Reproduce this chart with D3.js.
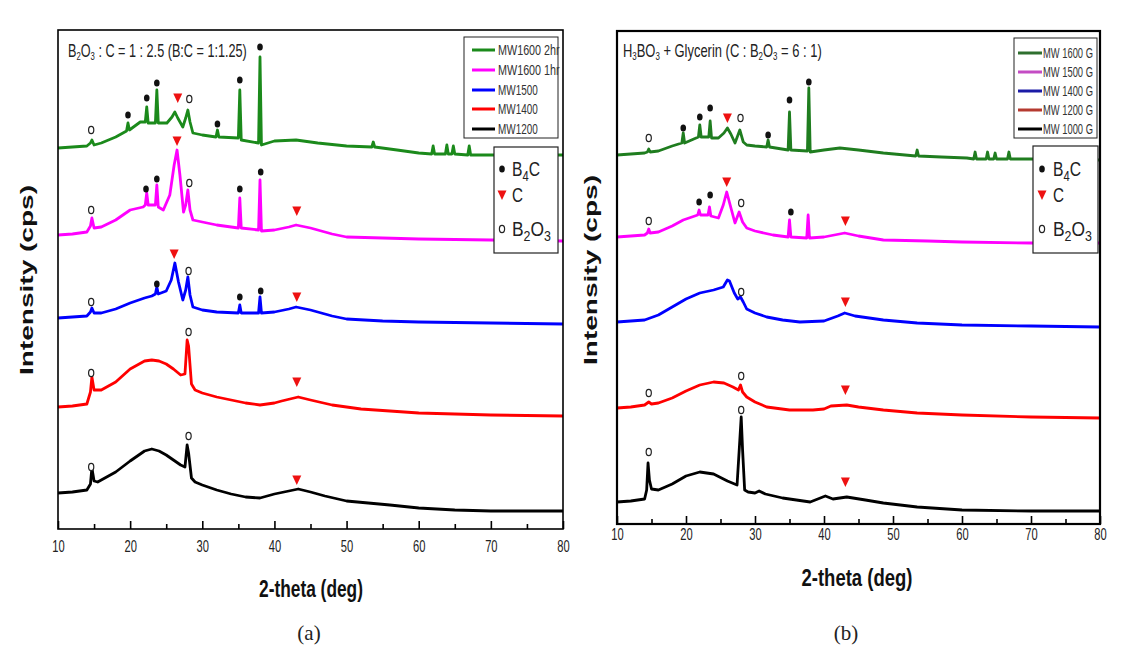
<!DOCTYPE html>
<html>
<head>
<meta charset="utf-8">
<script src="https://cdn.jsdelivr.net/npm/d3@7"></script>
<style>
  html, body { margin: 0; padding: 0; background: #fff; }
  svg { display: block; }
</style>
</head>
<body>
<svg id="chart" width="1127" height="650"></svg>
<script>
// ---------------- DATA ----------------
const xTicks = [10, 20, 30, 40, 50, 60, 70, 80];
const xMinorTicks = [15, 25, 35, 45, 55, 65, 75];

const aSeriesNames = ["MW1600 2hr", "MW1600 1hr", "MW1500", "MW1400", "MW1200"];
const bSeriesNames = ["MW 1600 G", "MW 1500 G", "MW 1400 G", "MW 1200 G", "MW 1000 G"];
const aColors = ["#1b8a1b", "#ff00ff", "#0000ff", "#ff0000", "#000000"];
const bColors = ["#1f7d1f", "#ff00ff", "#0000ff", "#ff0000", "#000000"];
const bLegendColors = ["#2f6f2f", "#c44cc4", "#1b1ba6", "#b53a30", "#000000"];
const phaseLabels = ["B4C", "C", "B2O3"];

// Panel (a) — stacked intensity (offset included), [2theta, intensity]
const aMW1600_2hr = [[10,762],[12,764],[14,766],[14.5,772],[14.7,778],[15,768],[16,772],[18,784],[19.5,796],[19.7,812],[19.9,798],[21.4,814],[22.1,814],[22.3,844],[22.5,812],[23.5,812],[23.7,878],[23.9,812],[25.1,812],[25.8,824],[26.2,834],[26.6,822],[27.3,804],[27.7,822],[28,838],[28.3,814],[28.7,792],[30,788],[31.9,784],[32.1,798],[32.3,784],[35,782],[35.2,878],[35.4,778],[37.8,772],[38,944],[38.2,768],[40,776],[43,778],[46,772],[50,766],[53.5,764],[53.7,774],[53.9,764],[57,758],[60,752],[61.8,750],[62,766],[62.2,750],[63.7,750],[63.9,768],[64.1,750],[64.6,750],[64.8,766],[65,750],[66.8,748],[67,766],[67.2,748],[70,748],[80,748]];
const aMW1600_1hr = [[10,588],[12,590],[14,594],[14.5,606],[14.7,622],[15,602],[16,604],[18,618],[20,638],[21.8,644],[22.1,648],[22.3,672],[22.5,648],[23.5,648],[23.7,688],[23.9,644],[24.6,638],[25.5,668],[26.1,728],[26.5,758],[26.9,708],[27.4,634],[27.7,648],[28,678],[28.3,638],[28.7,618],[30,614],[32,608],[34,604],[35,602],[35.2,662],[35.4,602],[37.8,598],[38,698],[38.2,596],[40,598],[42,604],[43,608],[45,602],[48,590],[50,584],[55,582],[60,580],[70,578],[80,576]];
const aMW1500 = [[10,422],[12,424],[14,426],[14.5,434],[14.7,442],[15,432],[16,432],[18,440],[20,452],[22,462],[23,466],[23.5,470],[23.7,484],[23.9,470],[25,476],[25.7,498],[26.2,532],[26.7,494],[27.3,458],[27.7,478],[28,504],[28.3,468],[28.7,444],[30,438],[32,434],[35,432],[35.2,448],[35.4,432],[37.8,432],[38,464],[38.2,432],[40,434],[42,440],[43,444],[45,438],[48,426],[50,420],[55,416],[60,414],[70,412],[80,410]];
const aMW1400 = [[10,244],[12,246],[14,250],[14.5,274],[14.7,304],[15,278],[16,278],[18,294],[20,320],[22,336],[23,338],[24,336],[25,330],[26,320],[27,308],[27.6,310],[27.9,378],[28.1,366],[28.5,290],[29,278],[30,272],[32,264],[34,258],[36,252],[38,248],[40,252],[41,256],[43.3,264],[45,258],[48,248],[52,240],[56,236],[60,232],[65,230],[70,228],[80,226]];
const aMW1200 = [[10,72],[12,74],[14,78],[14.5,90],[14.7,122],[15,96],[15.5,94],[16,98],[18,114],[20,136],[22,156],[23,160],[24,156],[25,148],[26,138],[27,128],[27.6,124],[27.9,168],[28.1,152],[28.5,102],[29,94],[30,88],[32,78],[34,70],[36,64],[38,62],[40,70],[42,76],[43.3,80],[45,74],[47,66],[50,56],[53,52],[56,48],[60,42],[65,38],[70,36],[80,36]];

// Panel (a) peak markers [type, 2theta, intensity]
const aMarkers = [
  ["o",14.6,798],["b",19.7,828],["b",22.3,862],["b",23.7,892],["c",26.6,862],["o",28.2,860],["b",32.1,810],["b",35.2,898],["b",38.0,964],
  ["o",14.6,638],["b",22.2,680],["b",23.7,700],["c",26.5,776],["o",28.2,692],["b",35.2,680],["b",38.1,714],["c",43.1,636],
  ["o",14.6,454],["b",23.7,490],["c",26.1,550],["o",28.1,516],["b",35.2,464],["b",38.1,476],["c",43.1,464],
  ["o",14.6,312],["o",28.1,394],["c",43.1,294],
  ["o",14.6,124],["o",28.1,186],["c",43.1,98]
];

// Panel (b)
const bMW1600G = [[10,738],[12,740],[14,742],[14.4,744],[14.6,750],[14.8,744],[16,746],[18,756],[19.4,762],[19.6,782],[19.8,762],[21.8,774],[22,798],[22.2,774],[23.3,774],[23.5,806],[23.7,772],[24.7,772],[25.5,782],[26,792],[26.5,780],[27.1,762],[27.8,788],[28.3,764],[28.8,758],[30,756],[31.7,754],[31.9,768],[32.1,754],[34.8,748],[35,824],[35.2,748],[37.6,746],[37.8,872],[38,744],[40,748],[42.3,752],[45,748],[48.6,742],[53.3,736],[53.5,748],[53.7,736],[57,734],[60.7,732],[61.7,730],[61.9,744],[62.1,730],[63.5,730],[63.7,744],[63.9,730],[64.6,730],[64.8,742],[65,730],[66.6,730],[66.8,744],[67,730],[70,730],[80,728]];
const bMW1500G = [[10,574],[12,576],[14,578],[14.4,582],[14.6,590],[14.8,582],[16,584],[18,596],[19.6,608],[21.7,618],[21.9,628],[22.1,618],[23.2,618],[23.4,634],[23.6,616],[24.7,612],[25.4,638],[25.9,664],[26.4,638],[27.1,602],[27.7,624],[28.2,604],[28.8,592],[30,586],[32.6,578],[34.8,574],[35,608],[35.2,574],[37.5,572],[37.7,618],[37.9,572],[40,574],[43,582],[45,576],[48.6,568],[55,566],[60,564],[70,562],[80,562]];
const bMW1400G = [[10,404],[12,406],[14,408],[16,418],[18,434],[20,450],[22,462],[24,468],[25.4,474],[26,488],[26.3,486],[27,462],[27.5,450],[27.9,454],[28.3,444],[28.8,430],[30,422],[31.7,414],[34,408],[36.5,404],[40,406],[42,416],[43,422],[44.5,416],[48.6,408],[53.5,402],[60,398],[70,396],[80,394]];
const bMW1200G = [[10,232],[12,234],[14,238],[14.6,244],[15,240],[16,242],[18,252],[20,266],[22,278],[24,284],[25.5,282],[26.8,274],[27.6,268],[27.9,278],[28.2,264],[28.8,254],[30,244],[31.7,234],[35,228],[38.4,228],[40,230],[41,236],[43.3,238],[45,234],[48.6,228],[53.5,222],[60,218],[70,214],[80,212]];
const bMW1000G = [[10,44],[12,46],[14,50],[14.3,68],[14.5,122],[14.7,88],[15,70],[16,68],[18,80],[20,96],[22,104],[24,100],[26,86],[27.4,78],[27.8,168],[28,214],[28.2,148],[28.5,68],[29,64],[30,62],[30.6,66],[31.5,60],[34,52],[38,44],[40.2,56],[41.3,50],[43.3,54],[46,48],[48.6,42],[53.5,34],[60,28],[70,26],[80,26]];

const bMarkers = [
  ["o",14.6,772],["b",19.6,792],["b",22.0,814],["b",23.5,832],["c",26.0,812],["o",27.9,812],["b",31.9,778],["b",35.0,848],["b",37.8,884],
  ["o",14.6,606],["b",21.9,644],["b",23.5,658],["c",25.9,684],["o",28.0,642],["b",35.2,624],["c",43.1,606],
  ["o",28.0,464],["c",43.1,444],
  ["o",14.6,262],["o",28.0,296],["c",43.1,268],
  ["o",14.6,144],["o",28.0,228],["c",43.1,84]
];

// ---------------- DRAWING ----------------
const svg = d3.select("#chart");
const SANS = "'Liberation Sans',Arial,sans-serif";

// horizontally squeeze a text element to a target width (narrow-font look)
function fitWidth(sel, w, anchor) {
  const node = sel.node();
  const bb = node.getBBox();
  const s = w / bb.width;
  let ax = bb.x;
  if (anchor === "middle") ax = bb.x + bb.width / 2;
  const prev = sel.attr("transform") || "";
  sel.attr("transform", `translate(${ax},0) scale(${s},1) translate(${-ax},0) ${prev}`);
}

const panels = [
  {
    series: [aMW1600_2hr, aMW1600_1hr, aMW1500, aMW1400, aMW1200],
    names: aSeriesNames, colors: aColors, legendColors: aColors, markers: aMarkers,
    x: d3.scaleLinear([10, 80], [58, 563]),
    y: d3.scaleLinear([0, 1000], [529, 29]),
    top: 30, bottom: 529, frameW: 1.6,
    title: [["B", 0], ["2", 1], ["O", 0], ["3", 1], [" : C = 1 : 2.5 (B:C = 1:1.25)", 0]],
    titleX: 68, titleW: 179,
    leg1: {x: 464, y: 37, w: 94, h: 101, rows: [50, 70, 90, 109, 129], lx0: 472, lx1: 495, tx: 498, widths: [62, 62, 40, 40, 40]},
    leg2: {x: 494, y: 147, w: 64, h: 106, sx: 502, tx: 512},
    ylabX: 33, ylabY: 280, xlabX: 311, xlabY: 597, xlabW: 104, capX: 309, capY: 640, tickPad: 12
  },
  {
    series: [bMW1600G, bMW1500G, bMW1400G, bMW1200G, bMW1000G],
    names: bSeriesNames, colors: bColors, legendColors: bLegendColors, markers: bMarkers,
    x: d3.scaleLinear([10, 80], [617, 1100]),
    y: d3.scaleLinear([0, 984], [524, 32]),
    top: 31, bottom: 524, frameW: 2.2,
    title: [["H", 0], ["3", 1], ["BO", 0], ["3", 1], [" + Glycerin (C : B", 0], ["2", 1], ["O", 0], ["3", 1], [" = 6 : 1)", 0]],
    titleX: 623, titleW: 199,
    leg1: {x: 1014, y: 38, w: 83, h: 100, rows: [53, 72, 91, 110, 129], lx0: 1018, lx1: 1042, tx: 1043, widths: [50, 50, 50, 50, 50]},
    leg2: {x: 1033, y: 146, w: 65, h: 107, sx: 1042, tx: 1053},
    ylabX: 597, ylabY: 270, xlabX: 857, xlabY: 586, xlabW: 111, capX: 846, capY: 640, tickPad: 5
  }
];

function drawMarker(g, type, cx, cy) {
  if (type === "b") {
    g.append("ellipse").attr("cx", cx).attr("cy", cy).attr("rx", 2.8).attr("ry", 3.6).attr("fill", "#111");
  } else if (type === "o") {
    g.append("ellipse").attr("cx", cx).attr("cy", cy).attr("rx", 2.6).attr("ry", 3.6)
      .attr("fill", "#fff").attr("stroke", "#222").attr("stroke-width", 1.2);
  } else {
    g.append("path").attr("transform", `translate(${cx},${cy})`)
      .attr("d", "M-4.5,-4.5L4.5,-4.5L0,5Z").attr("fill", "#ee1111");
  }
}

panels.forEach((p, pi) => {
  const g = svg.append("g");
  const [x0, x1] = p.x.range();

  // data lines (draw bottom first)
  const line = d3.line().x(d => p.x(d[0])).y(d => p.y(d[1]));
  p.series.slice().reverse().forEach((s, i) => {
    const idx = p.series.length - 1 - i;
    g.append("path").datum(s).attr("d", line)
      .attr("fill", "none").attr("stroke", p.colors[idx])
      .attr("stroke-width", 2.8).attr("stroke-linejoin", "round");
  });

  // markers
  p.markers.forEach(m => drawMarker(g, m[0], p.x(m[1]), p.y(m[2])));

  // frame
  g.append("rect").attr("x", x0).attr("y", p.top).attr("width", x1 - x0).attr("height", p.bottom - p.top)
    .attr("fill", "none").attr("stroke", "#000").attr("stroke-width", p.frameW);

  // x axis major/minor ticks (inward)
  const axMaj = d3.axisBottom(p.x).tickValues(xTicks).tickSize(-8).tickPadding(p.tickPad).tickFormat(d3.format("d"));
  const axG = g.append("g").attr("transform", `translate(0,${p.bottom})`).call(axMaj);
  axG.select(".domain").remove();
  axG.selectAll(".tick line").attr("stroke", "#000").attr("stroke-width", 1.6);
  axG.selectAll(".tick text").attr("font-family", SANS).attr("font-size", 16).attr("fill", "#222")
    .each(function () { fitWidth(d3.select(this), 12.5, "middle"); });
  const axMin = d3.axisBottom(p.x).tickValues(xMinorTicks).tickSize(-5).tickFormat("");
  const axG2 = g.append("g").attr("transform", `translate(0,${p.bottom})`).call(axMin);
  axG2.select(".domain").remove();
  axG2.selectAll(".tick line").attr("stroke", "#000").attr("stroke-width", 1.6);

  // title with subscripts
  const t = g.append("text").attr("x", p.titleX).attr("y", 57)
    .attr("font-family", SANS).attr("font-size", 18).attr("fill", "#222");
  let sub = false;
  p.title.forEach(([txt, s]) => {
    const ts = t.append("tspan").text(txt);
    if (s && !sub) { ts.attr("dy", 3).attr("font-size", 11); sub = true; }
    else if (s && sub) { ts.attr("font-size", 11); }
    else if (!s && sub) { ts.attr("dy", -3); sub = false; }
  });
  fitWidth(t, p.titleW, "start");

  // legend 1 (series)
  const L = p.leg1;
  g.append("rect").attr("x", L.x).attr("y", L.y).attr("width", L.w).attr("height", L.h)
    .attr("fill", "#fff").attr("stroke", "#222").attr("stroke-width", 1);
  p.names.forEach((n, i) => {
    g.append("line").attr("x1", L.lx0).attr("x2", L.lx1).attr("y1", L.rows[i]).attr("y2", L.rows[i])
      .attr("stroke", p.legendColors[i]).attr("stroke-width", 3);
    const lt = g.append("text").attr("x", L.tx).attr("y", L.rows[i] + 5).text(n)
      .attr("font-family", SANS).attr("font-size", 14).attr("fill", "#333");
    fitWidth(lt, L.widths[i], "start");
  });

  // legend 2 (phases)
  const M = p.leg2;
  g.append("rect").attr("x", M.x).attr("y", M.y).attr("width", M.w).attr("height", M.h)
    .attr("fill", "#fff").attr("stroke", "#222").attr("stroke-width", 1.2);
  const symRows = [169, 195, 229];
  const types = ["b", "c", "o"];
  const phaseW = [28, 11, 39];
  types.forEach((tp, i) => drawMarker(g, tp, M.sx, symRows[i]));
  const phaseParts = [[["B", 0], ["4", 1], ["C", 0]], [["C", 0]], [["B", 0], ["2", 1], ["O", 0], ["3", 1]]];
  phaseParts.forEach((parts, i) => {
    const tt = g.append("text").attr("x", M.tx).attr("y", symRows[i] + 7)
      .attr("font-family", SANS).attr("font-size", 21).attr("fill", "#222");
    let sb = false;
    parts.forEach(([txt, s]) => {
      const ts = tt.append("tspan").text(txt);
      if (s && !sb) { ts.attr("dy", 5).attr("font-size", 15); sb = true; }
      else if (s && sb) { ts.attr("font-size", 15); }
      else if (!s && sb) { ts.attr("dy", -5); sb = false; }
    });
    fitWidth(tt, phaseW[i], "start");
  });

  // axis labels
  g.append("text").attr("transform", `translate(${p.ylabX},${p.ylabY}) rotate(-90)`)
    .attr("text-anchor", "middle").attr("font-family", SANS).attr("font-weight", "bold")
    .attr("font-size", 19).attr("fill", "#111").attr("textLength", 190).attr("lengthAdjust", "spacingAndGlyphs")
    .text("Intensity (cps)");
  const xl = g.append("text").attr("x", p.xlabX).attr("y", p.xlabY).attr("text-anchor", "middle")
    .attr("font-family", SANS).attr("font-weight", "bold").attr("font-size", 23).attr("fill", "#111")
    .text("2-theta (deg)");
  fitWidth(xl, p.xlabW, "middle");
  g.append("text").attr("x", p.capX).attr("y", p.capY).attr("text-anchor", "middle")
    .attr("font-family", "'Liberation Serif','DejaVu Serif',serif").attr("font-size", 21).attr("fill", "#222")
    .text(pi === 0 ? "(a)" : "(b)");
});
</script>
</body>
</html>
